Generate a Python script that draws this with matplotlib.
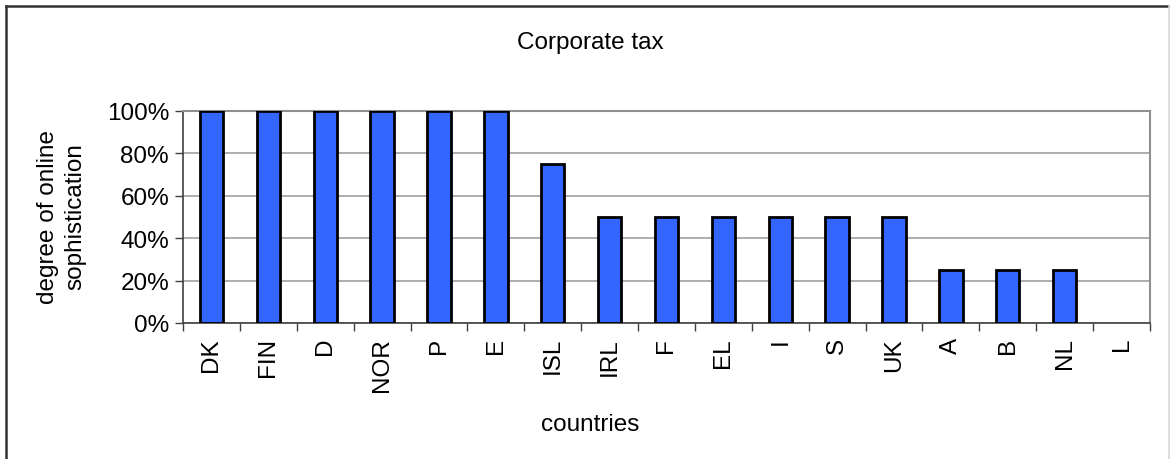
import matplotlib

matplotlib.use("Agg")
import matplotlib.pyplot as plt
from matplotlib.lines import Line2D
from matplotlib.ticker import FixedLocator, PercentFormatter

countries = ["DK", "FIN", "D", "NOR", "P", "E", "ISL", "IRL", "F", "EL",
             "I", "S", "UK", "A", "B", "NL", "L"]
sophistication = [100, 100, 100, 100, 100, 100, 75, 50, 50, 50,
                  50, 50, 50, 25, 25, 25, 0]

plt.rcParams["font.family"] = ["Liberation Sans", "DejaVu Sans"]
FS = 17.5

fig = plt.figure(figsize=(11.7, 4.6), dpi=100)
ax = fig.add_axes([183 / 1170, 1 - 324 / 460, (1150 - 183) / 1170, (324 - 112) / 460])

x = range(len(countries))
edges = ["black" if v > 0 else "none" for v in sophistication]
ax.bar(x, sophistication, width=0.41, color="#3366FF", edgecolor=edges,
       linewidth=2.0, zorder=3)

ax.set_xlim(-0.5, len(countries) - 0.5)
ax.set_ylim(0, 100)
ax.set_yticks(range(0, 101, 20))
ax.yaxis.set_major_formatter(PercentFormatter(decimals=0))
ax.grid(axis="y", color="#A0A0A0", linewidth=1.2, zorder=0)

# category labels centred, tick marks on category boundaries
ax.set_xticks(list(x))
ax.set_xticklabels(countries, rotation=90, fontsize=FS)
ax.tick_params(axis="x", which="major", length=0, pad=10)
ax.xaxis.set_minor_locator(FixedLocator([i - 0.5 for i in range(len(countries) + 1)]))
ax.tick_params(axis="x", which="minor", length=6, width=1, color="#404040")
ax.tick_params(axis="y", labelsize=FS, length=6, width=1, color="#404040", pad=4)

for side in ("top", "right"):
    ax.spines[side].set_color("#909090")
    ax.spines[side].set_linewidth(1.5)
for side in ("left", "bottom"):
    ax.spines[side].set_color("#404040")
    ax.spines[side].set_linewidth(1.2)

fig.text(590 / 1170, 1 - 43 / 460, "Corporate tax", ha="center", va="center", fontsize=FS)
fig.text(590 / 1170, 1 - 425 / 460, "countries", ha="center", va="center", fontsize=FS)
fig.text(62 / 1170, 1 - 217 / 460, "degree of online\nsophistication", ha="center",
         va="center", rotation=90, fontsize=FS, linespacing=1.3)

# outer chart-area border
fig.add_artist(Line2D([6 / 1170, 6 / 1170], [0, 1 - 7 / 460], transform=fig.transFigure,
                      color="#333333", linewidth=1.8))
fig.add_artist(Line2D([6 / 1170, 1169 / 1170], [1 - 7 / 460, 1 - 7 / 460],
                      transform=fig.transFigure, color="#333333", linewidth=1.8))
fig.add_artist(Line2D([1168.5 / 1170, 1168.5 / 1170], [0, 1 - 7 / 460],
                      transform=fig.transFigure, color="#D8D8D8", linewidth=1.2))

fig.savefig("out.png", dpi=100)
plt.close(fig)
